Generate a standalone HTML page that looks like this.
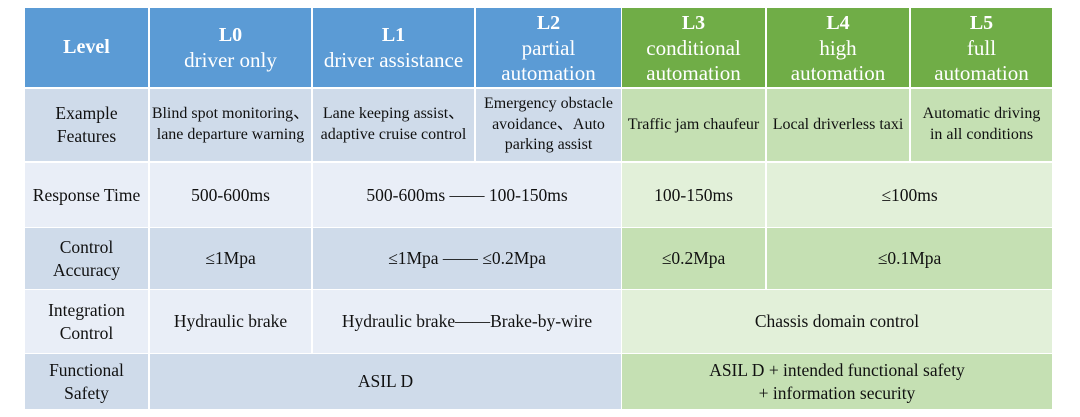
<!DOCTYPE html>
<html><head><meta charset="utf-8"><style>
body{margin:0;width:1080px;height:417px;background:#fff;position:relative;overflow:hidden;font-family:"Liberation Serif",serif;color:#111}
.c{position:absolute;display:flex;align-items:center;justify-content:center;text-align:center;box-sizing:border-box;line-height:1.3;font-size:17.5px;white-space:nowrap}
.h{color:#fff;font-size:21px;line-height:25px}
.h b{font-size:20px}
.f{font-size:16px;line-height:1.3}
</style></head><body>
<div class="c h" style="left:25px;top:8px;width:123px;height:79px;background:#5b9bd5"><b>Level</b></div>
<div class="c h" style="left:150px;top:8px;width:161px;height:79px;background:#5b9bd5"><div><b>L0</b><br>driver only</div></div>
<div class="c h" style="left:313px;top:8px;width:161px;height:79px;background:#5b9bd5"><div><b>L1</b><br>driver assistance</div></div>
<div class="c h" style="left:476px;top:8px;width:145px;height:79px;background:#5b9bd5"><div><b>L2</b><br>partial<br>automation</div></div>
<div class="c h" style="left:622px;top:8px;width:143px;height:79px;background:#70ad47"><div><b>L3</b><br>conditional<br>automation</div></div>
<div class="c h" style="left:767px;top:8px;width:142px;height:79px;background:#70ad47"><div><b>L4</b><br>high<br>automation</div></div>
<div class="c h" style="left:911px;top:8px;width:141px;height:79px;background:#70ad47"><div><b>L5</b><br>full<br>automation</div></div>
<div class="c" style="left:25px;top:89px;width:123px;height:72px;background:#cfdbea">Example<br>Features</div>
<div class="c f" style="left:150px;top:89px;width:161px;height:72px;background:#cfdbea">Blind spot monitoring、<br>lane departure warning</div>
<div class="c f" style="left:313px;top:89px;width:161px;height:72px;background:#cfdbea">Lane keeping assist、<br>adaptive cruise control</div>
<div class="c f" style="left:476px;top:89px;width:145px;height:72px;background:#cfdbea">Emergency obstacle<br>avoidance、Auto<br>parking assist</div>
<div class="c f" style="left:622px;top:89px;width:143px;height:72px;background:#c5e0b3">Traffic jam chaufeur</div>
<div class="c f" style="left:767px;top:89px;width:142px;height:72px;background:#c5e0b3">Local driverless taxi</div>
<div class="c f" style="left:911px;top:89px;width:141px;height:72px;background:#c5e0b3">Automatic driving<br>in all conditions</div>
<div class="c" style="left:25px;top:163px;width:123px;height:64px;background:#e9eef7">Response Time</div>
<div class="c" style="left:150px;top:163px;width:161px;height:64px;background:#e9eef7">500-600ms</div>
<div class="c" style="left:313px;top:163px;width:308px;height:64px;background:#e9eef7">500-600ms —— 100-150ms</div>
<div class="c" style="left:622px;top:163px;width:143px;height:64px;background:#e2f0d9">100-150ms</div>
<div class="c" style="left:767px;top:163px;width:285px;height:64px;background:#e2f0d9">≤100ms</div>
<div class="c" style="left:25px;top:228px;width:123px;height:61px;background:#cfdbea">Control<br>Accuracy</div>
<div class="c" style="left:150px;top:228px;width:161px;height:61px;background:#cfdbea">≤1Mpa</div>
<div class="c" style="left:313px;top:228px;width:308px;height:61px;background:#cfdbea">≤1Mpa —— ≤0.2Mpa</div>
<div class="c" style="left:622px;top:228px;width:143px;height:61px;background:#c5e0b3">≤0.2Mpa</div>
<div class="c" style="left:767px;top:228px;width:285px;height:61px;background:#c5e0b3">≤0.1Mpa</div>
<div class="c" style="left:25px;top:290px;width:123px;height:63px;background:#e9eef7">Integration<br>Control</div>
<div class="c" style="left:150px;top:290px;width:161px;height:63px;background:#e9eef7">Hydraulic brake</div>
<div class="c" style="left:313px;top:290px;width:308px;height:63px;background:#e9eef7">Hydraulic brake——Brake-by-wire</div>
<div class="c" style="left:622px;top:290px;width:430px;height:63px;background:#e2f0d9">Chassis domain control</div>
<div class="c" style="left:25px;top:354px;width:123px;height:55px;background:#cfdbea">Functional<br>Safety</div>
<div class="c" style="left:150px;top:354px;width:471px;height:55px;background:#cfdbea">ASIL D</div>
<div class="c" style="left:622px;top:354px;width:430px;height:55px;background:#c5e0b3">ASIL D + intended functional safety<br>+ information security</div>
</body></html>
